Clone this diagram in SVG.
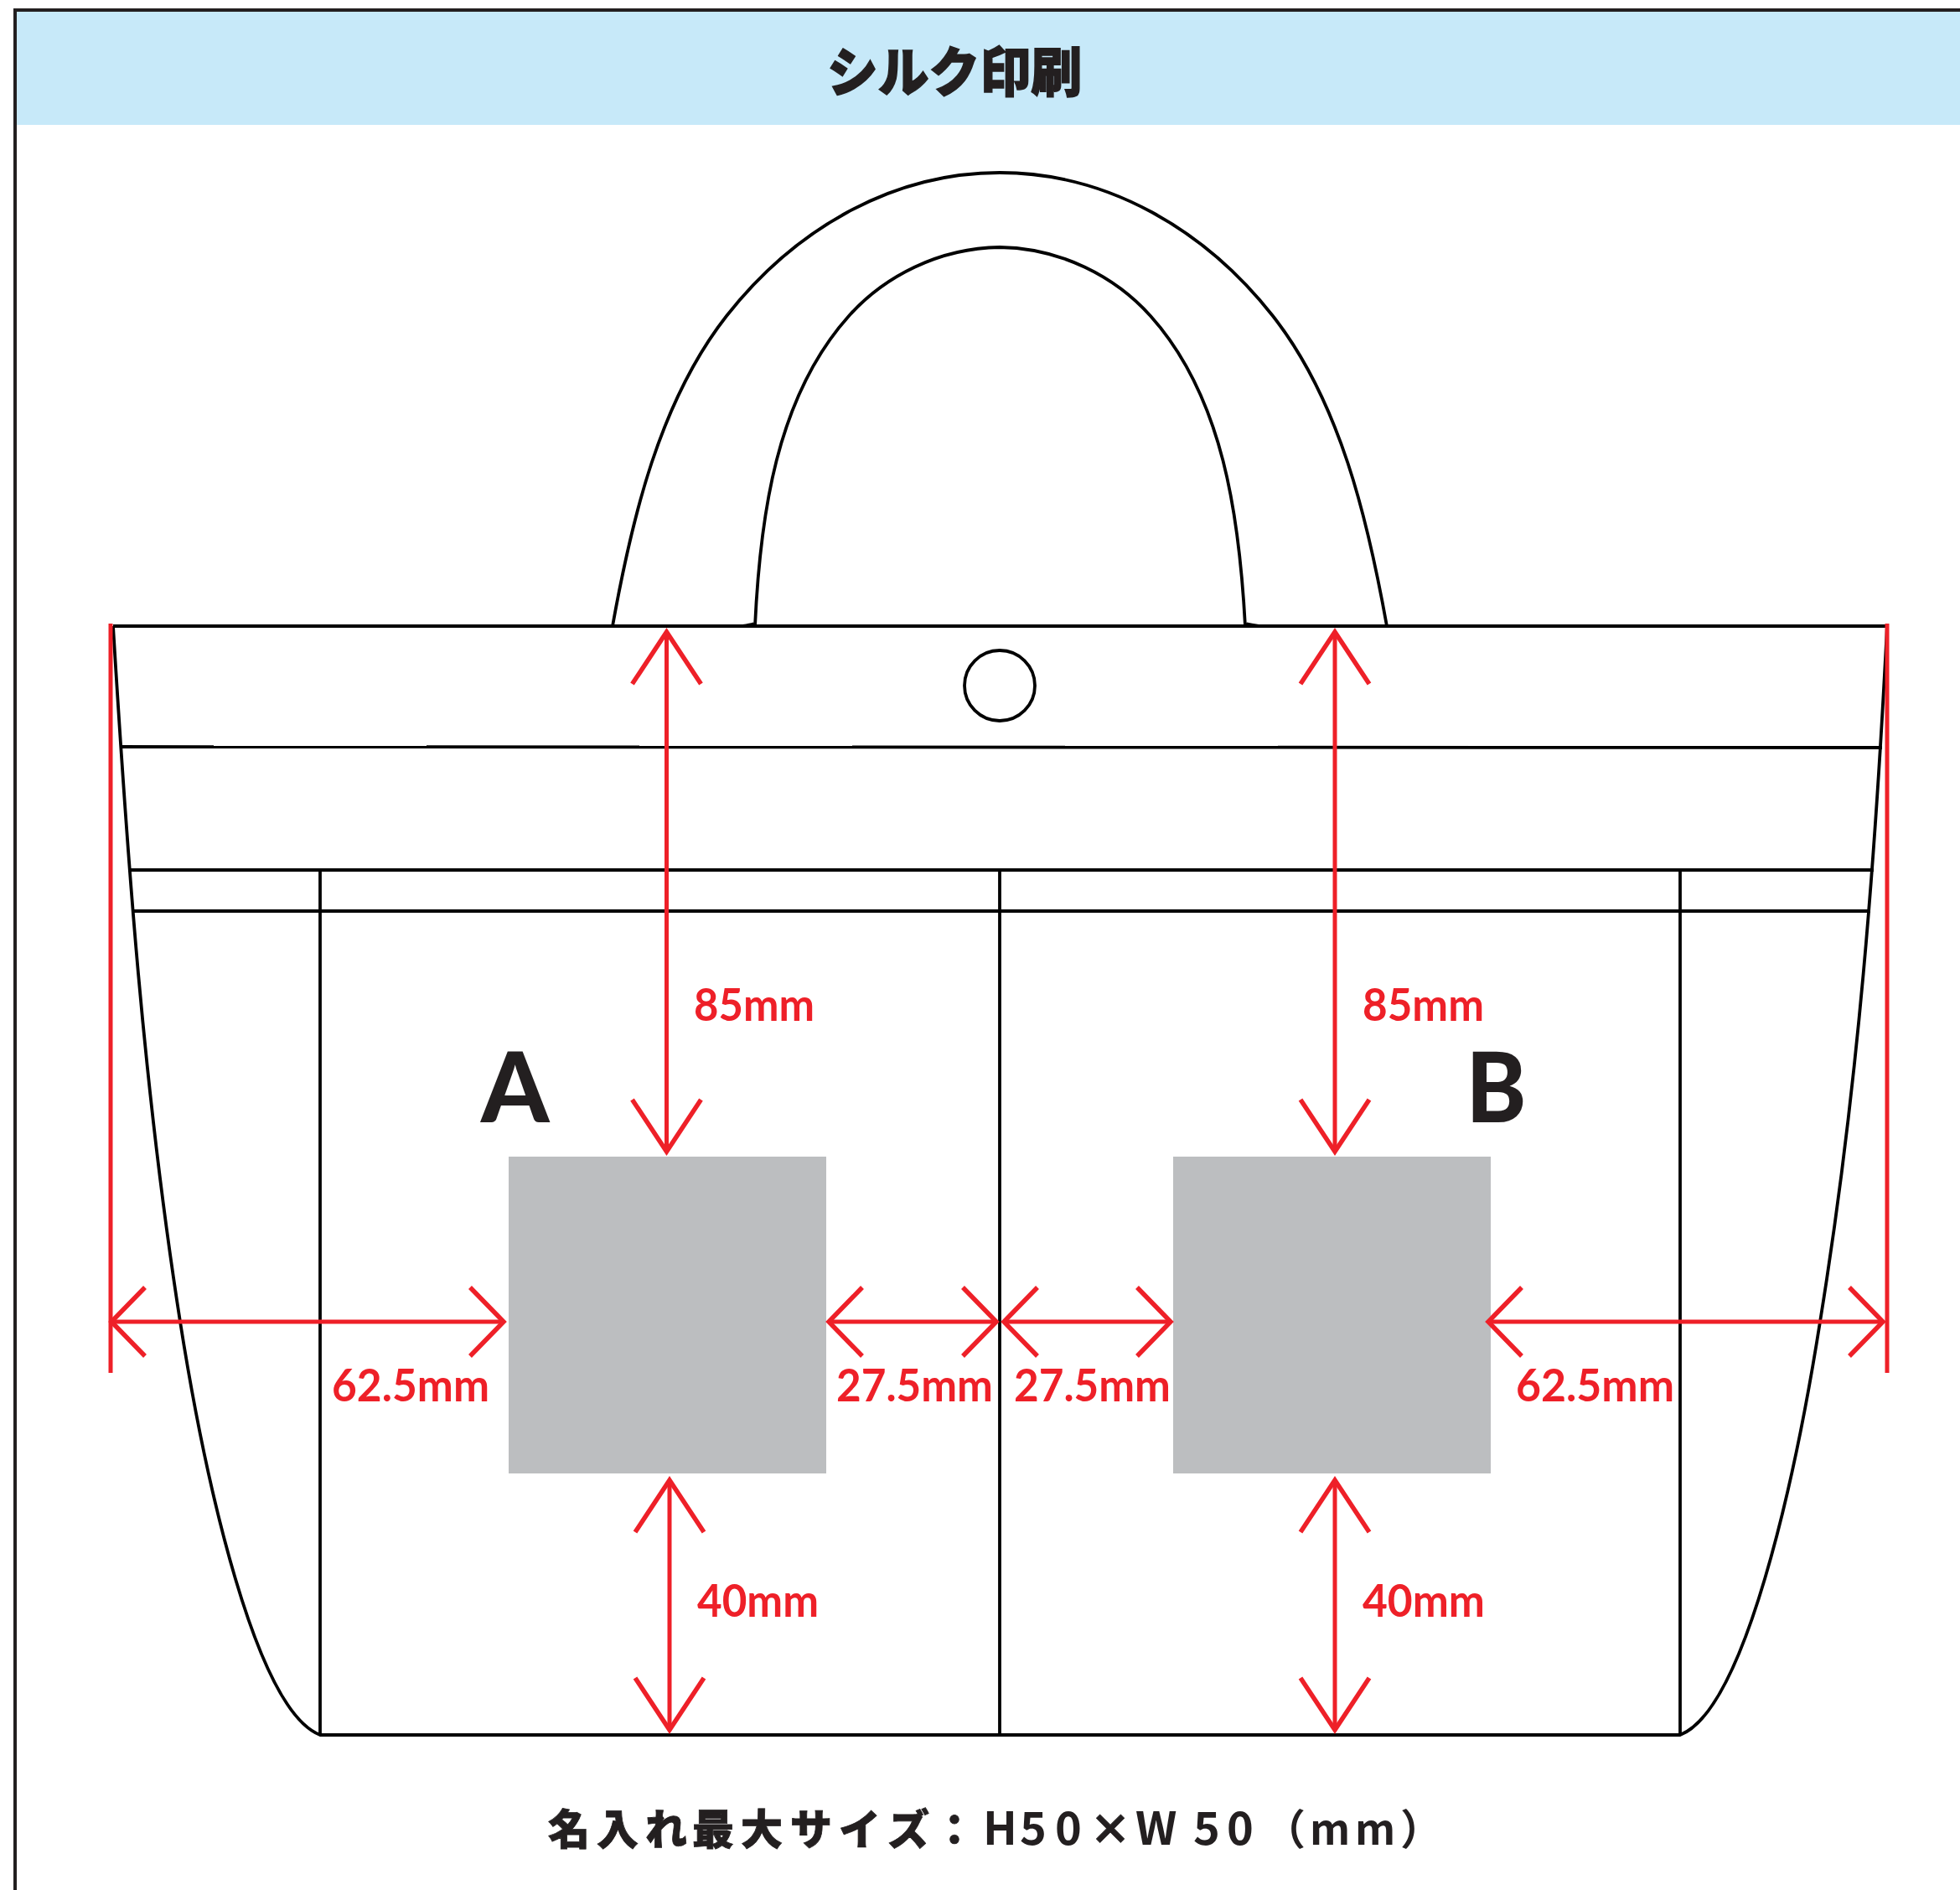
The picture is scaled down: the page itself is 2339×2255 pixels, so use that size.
<svg xmlns="http://www.w3.org/2000/svg" width="2339" height="2255" viewBox="0 0 2339 2255">
<style>
.o{fill:none;stroke:#000;stroke-width:3.8}
.a{fill:none;stroke:#ee2028;stroke-width:5}
.h{marker-start:url(#mh);marker-end:url(#mh)}
.v{marker-start:url(#mv);marker-end:url(#mv)}
.l{font-family:"Lato","Liberation Sans",sans-serif;font-weight:700;font-size:53px;fill:#ee2028}
.j{font-family:"Noto Sans CJK JP","Liberation Sans",sans-serif;font-weight:900;fill:#231f20;stroke:#231f20}
.k{font-family:"Lato","Liberation Sans",sans-serif;font-weight:900;font-size:116px;fill:#231f20}
.n{font-size:54px;font-weight:700;stroke:none}
.m{font-weight:700;stroke:none}
.g{fill:#bcbec0}
</style>
<defs>
<marker id="mh" markerUnits="userSpaceOnUse" orient="auto-start-reverse" overflow="visible" markerWidth="50" markerHeight="90" refX="0" refY="0"><path d="M-40 -41L0 0L-40 41" fill="none" stroke="#ee2028" stroke-width="5.500"/></marker>
<marker id="mv" markerUnits="userSpaceOnUse" orient="auto-start-reverse" overflow="visible" markerWidth="70" markerHeight="90" refX="0" refY="0"><path d="M-62 -41L0 0L-62 41" fill="none" stroke="#ee2028" stroke-width="5.500"/></marker>
</defs>
<rect width="2339" height="2255" fill="#fff"/>
<g id="frame">
<rect x="19" y="14" width="2320" height="135" fill="#c7e9f9"/>
<path d="M18 2255V12H2339" fill="none" stroke="#231f20" stroke-width="4"/>
</g>
<g id="title"><text class="j" x="987" y="109" font-size="64" stroke-width="1.500" textLength="304" lengthAdjust="spacingAndGlyphs">シルク印刷</text></g>
<g id="bag">
<path class="o" d="M731 747C754 619 787 479 867 377C947 275 1063 206 1193 206C1323 206 1439 275 1519 377C1599 479 1632 619 1655 747"/>
<path class="o" d="M901 747C907 617 926 474 1013 377C1055 330 1120 296 1193 295C1266 296 1331 330 1373 377C1460 474 1479 617 1486 747"/>
<path d="M866 746Q890 745.500 899 742.500L903 748ZM1523 746Q1499 745.500 1488 742.500L1484 748Z" fill="#000"/>
<path class="o" d="M135 747H2251"/>
<path class="o" d="M144 891L2246 892"/>
<path class="o" d="M156 1038H2236"/>
<path class="o" d="M159 1087H2232"/>
<path class="o" d="M135 747C152 1024 171.500 1300 215 1577C245 1767 305 2040 382 2070H2005C2082 2040 2142 1767 2172 1577C2217 1300 2238 1024 2252 747"/>
<path class="o" d="M382 1040V2070M1193 1040V2070M2005 1040V2070"/>
<circle class="o" cx="1193" cy="818" r="42"/>
</g>
<g id="printA"><rect class="g" x="607" y="1380" width="379" height="378"/><text class="k" x="574" y="1339">A</text></g>
<g id="printB"><rect class="g" x="1400" y="1380" width="379" height="378"/><text class="k" x="1749.500" y="1339" textLength="72" lengthAdjust="spacingAndGlyphs">B</text></g>
<g id="connectors">
<path class="a" d="M132 744V1638M2252 744V1638"/>
<path class="a h" d="M133 1577H601"/>
<path class="a h" d="M989 1577H1189"/>
<path class="a h" d="M1198 1577H1397"/>
<path class="a h" d="M1776 1577H2247"/>
<path class="a v" d="M795.500 754V1374"/>
<path class="a v" d="M1593 754V1374"/>
<path class="a v" d="M799 1766V2064"/>
<path class="a v" d="M1593 1766V2064"/>
</g>
<g id="labels">
<text class="l" x="828" y="1218" textLength="144" lengthAdjust="spacingAndGlyphs">85mm</text>
<text class="l" x="1626" y="1218" textLength="145" lengthAdjust="spacingAndGlyphs">85mm</text>
<text class="l" x="396" y="1672" textLength="188" lengthAdjust="spacingAndGlyphs">62.5mm</text>
<text class="l" x="998" y="1672" textLength="187" lengthAdjust="spacingAndGlyphs">27.5mm</text>
<text class="l" x="1210" y="1672" textLength="187" lengthAdjust="spacingAndGlyphs">27.5mm</text>
<text class="l" x="1809" y="1672" textLength="189" lengthAdjust="spacingAndGlyphs">62.5mm</text>
<text class="l" x="832" y="1929" textLength="145" lengthAdjust="spacingAndGlyphs">40mm</text>
<text class="l" x="1626" y="1929" textLength="146" lengthAdjust="spacingAndGlyphs">40mm</text>
</g>
<g id="footer"><text class="j" y="2201" font-size="50" stroke-width=".8"><tspan x="654 712 770 826 884 943 1001 1059 1114">名入れ最大サイズ：</tspan><tspan class="n" x="1173 1217 1259">H50</tspan><tspan x="1300">×</tspan><tspan class="n" x="1355 1424 1464">W50</tspan><tspan class="m" x="1508">（</tspan><tspan class="m" x="1563 1617">mm</tspan><tspan class="m" x="1671">）</tspan></text></g>
</svg>
